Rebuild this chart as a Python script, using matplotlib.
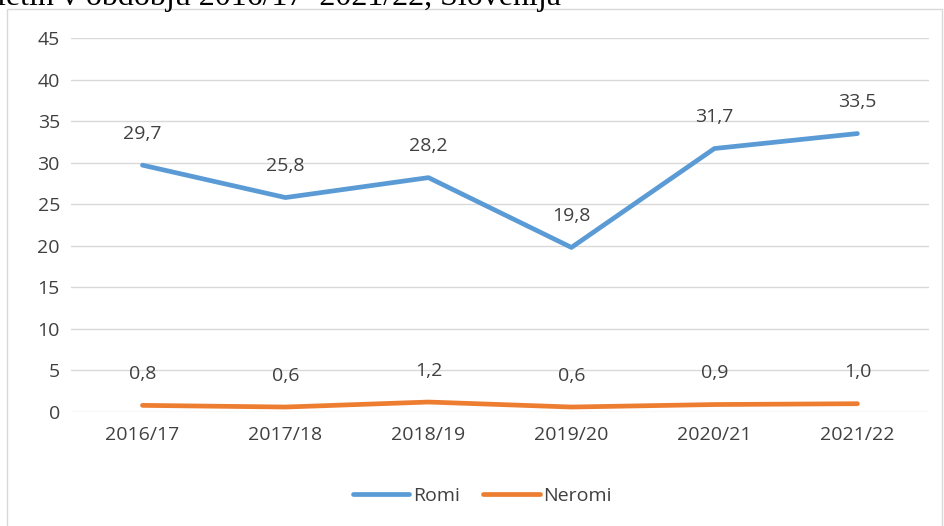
import matplotlib.pyplot as plt
from matplotlib.patches import Rectangle

# years and shares (%)
years = ['2016/17', '2017/18', '2018/19', '2019/20', '2020/21', '2021/22']
romi = [29.7, 25.8, 28.2, 19.8, 31.7, 33.5]
neromi = [0.8, 0.6, 1.2, 0.6, 0.9, 1.0]

plt.rcParams['font.family'] = ['Open Sans', 'DejaVu Sans']
txt = '#404040'
fs = 14

fig = plt.figure(figsize=(9.44, 5.26), dpi=100)
ax = fig.add_axes([0.0752, 0.2167, 0.9088, 0.7111])

x = range(len(years))
ax.plot(x, romi, color='#5B9BD5', lw=3.4, solid_capstyle='round', label='Romi')
ax.plot(x, neromi, color='#ED7D31', lw=3.4, solid_capstyle='round', label='Neromi')

for i in x:
    ax.annotate(f'{romi[i]:.1f}'.replace('.', ','), (i, romi[i]), xytext=(0, 22.5),
                textcoords='offset points', ha='center', va='center', fontsize=fs, color=txt)
    ax.annotate(f'{neromi[i]:.1f}'.replace('.', ','), (i, neromi[i]), xytext=(0, 22.5),
                textcoords='offset points', ha='center', va='center', fontsize=fs, color=txt)

ax.set_xlim(-0.5, len(years) - 0.5)
ax.set_ylim(0, 45)
ax.set_yticks(range(0, 50, 5))
ax.set_xticks(list(x))
ax.set_xticklabels(years)
ax.grid(axis='y', color='#d9d9d9', lw=1)
ax.set_axisbelow(True)
for s in ax.spines.values():
    s.set_visible(False)
ax.tick_params(length=0, labelsize=fs, labelcolor=txt, pad=8)
ax.tick_params(axis='x', pad=10)

fig.legend(loc='center', bbox_to_anchor=(0.511, 0.057), ncol=2, frameon=False,
           fontsize=fs, labelcolor=txt, handlelength=2.9, handletextpad=0.2,
           columnspacing=1.2)

# chart border and the cut-off caption line above it
fig.add_artist(Rectangle((7 / 944, -0.02), 935 / 944, 1 - 9 / 526 + 0.02,
                         transform=fig.transFigure, fill=False, ec='#d9d9d9', lw=1))
fig.text(-0.003, 1 - 5 / 526, 'letih v obdobju 2016/17–2021/22, Slovenija',
         family='Liberation Serif', fontsize=23, va='baseline', color='black')

fig.savefig('out.png', dpi=100)
